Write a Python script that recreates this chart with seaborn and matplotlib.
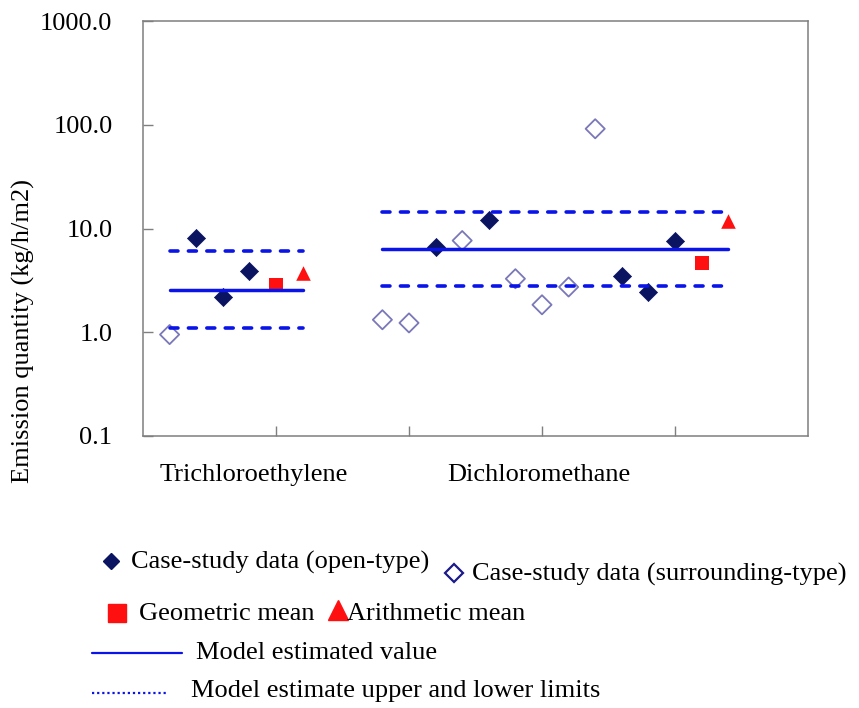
import numpy as np
import pandas as pd
import matplotlib
matplotlib.use("Agg")
import matplotlib.pyplot as plt
from matplotlib.lines import Line2D
import seaborn as sns

# ---- data -------------------------------------------------------------
# x is the sample slot along the horizontal axis (5 slots per axis unit)
tce_open_slot = [2, 3, 4]
tce_open_val = [8.1, 2.2, 3.9]
tce_surr_slot = [1]
tce_surr_val = [0.95]
tce_geo_slot, tce_geo_val = 5, 2.87
tce_arith_slot, tce_arith_val = 6, 3.75
tce_model, tce_upper, tce_lower = 2.55, 6.1, 1.10
tce_span = (1, 6)

dcm_open_slot = [11, 13, 18, 19, 20]
dcm_open_val = [6.7, 12.1, 3.45, 2.44, 7.55]
dcm_surr_slot = [9, 10, 12, 14, 15, 16, 17]
dcm_surr_val = [1.32, 1.23, 7.65, 3.28, 1.84, 2.73, 91.5]
dcm_geo_slot, dcm_geo_val = 21, 4.6
dcm_arith_slot, dcm_arith_val = 22, 11.8
dcm_model, dcm_upper, dcm_lower = 6.3, 14.5, 2.79
dcm_span = (9, 22)

categories = ["Trichloroethylene", "Dichloromethane"]
category_pos = [0.83, 2.98]
y_ticks = [0.1, 1, 10, 100, 1000]
y_label = "Emission quantity (kg/h/m2)"

legend_labels = [
    "Case-study data (open-type)",
    "Case-study data (surrounding-type)",
    "Geometric mean",
    "Arithmetic mean",
    "Model estimated value",
    "Model estimate upper and lower limits",
]

SLOT = 0.2
FS = 19

# ---- style ------------------------------------------------------------
sns.set_theme(style="white")
plt.rcParams["font.family"] = ["Liberation Serif", "DejaVu Serif"]
plt.rcParams["font.size"] = FS
plt.rcParams["text.color"] = "black"
plt.rcParams["axes.labelcolor"] = "black"

NAVY = "#0b1460"
OPEN_EDGE = "#7a78b8"
RED = "#ff1010"
BLUE = "#0a14e8"
GRAY = "#7f7f7f"

fig = plt.figure(figsize=(8.59, 7.08), dpi=100)
ax = fig.add_axes([143 / 859, 1 - 436 / 708, 665 / 859, 415 / 708])

def slots(s):
    return np.asarray(s, dtype=float) * SLOT

open_df = pd.DataFrame({"x": np.r_[slots(tce_open_slot), slots(dcm_open_slot)],
                        "y": tce_open_val + dcm_open_val})
surr_df = pd.DataFrame({"x": np.r_[slots(tce_surr_slot), slots(dcm_surr_slot)],
                        "y": tce_surr_val + dcm_surr_val})
geo_df = pd.DataFrame({"x": slots([tce_geo_slot, dcm_geo_slot]),
                       "y": [tce_geo_val, dcm_geo_val]})
arith_df = pd.DataFrame({"x": slots([tce_arith_slot, dcm_arith_slot]),
                         "y": [tce_arith_val, dcm_arith_val]})

sns.scatterplot(data=open_df, x="x", y="y", marker="D", s=85, color=NAVY,
                edgecolor=NAVY, linewidth=0.5, ax=ax, zorder=3)
sns.scatterplot(data=surr_df, x="x", y="y", marker="D", s=95, facecolor="none",
                edgecolor=OPEN_EDGE, linewidth=1.3, ax=ax, zorder=3)
sns.scatterplot(data=geo_df, x="x", y="y", marker="s", s=100, color=RED,
                edgecolor=RED, linewidth=0, ax=ax, zorder=3)
sns.scatterplot(data=arith_df, x="x", y="y", marker="^", s=110, color=RED,
                edgecolor=RED, linewidth=0, ax=ax, zorder=3)

# model value and limits, one segment per substance
for span, mid, up, lo in [(tce_span, tce_model, tce_upper, tce_lower),
                          (dcm_span, dcm_model, dcm_upper, dcm_lower)]:
    xs = slots(span)
    sns.lineplot(x=xs, y=[mid, mid], color=BLUE, lw=2.5, ax=ax, zorder=4,
                 solid_capstyle="round")
    for v in (up, lo):
        sns.lineplot(x=xs, y=[v, v], color=BLUE, lw=2.6, ax=ax, zorder=4,
                     dashes=(2.2, 2.9), dash_capstyle="round")

ax.set_yscale("log")
ax.set_ylim(0.1, 1000)
ax.set_xlim(0, 5)
ax.set_yticks(y_ticks)
ax.set_yticklabels([f"{v:.1f}" for v in y_ticks])
ax.yaxis.set_minor_locator(matplotlib.ticker.NullLocator())
ax.set_xticks([1, 2, 3, 4])
ax.set_xticklabels([])
ax.tick_params(axis="both", direction="in", length=7, width=1, color=GRAY,
               left=True, bottom=True)
ax.tick_params(axis="y", pad=22, labelsize=FS, labelcolor="black")
ax.set_xlabel("")
ax.set_ylabel("")
for sp in ax.spines.values():
    sp.set_visible(True)
    sp.set_color(GRAY)
    sp.set_linewidth(1.1)

for name, pos in zip(categories, category_pos):
    ax.text(pos, -0.095, name, transform=ax.get_xaxis_transform(),
            ha="center", va="center", fontsize=FS, color="black")

fig.text(23 / 859, 1 - 331 / 708, y_label, rotation=90, ha="center",
         va="center", fontsize=FS, color="black")

# ---- legend (overlay in pixel units) ----------------------------------
lax = fig.add_axes([0, 0, 1, 1], zorder=5)
lax.set_xlim(0, 859)
lax.set_ylim(708, 0)
lax.axis("off")
lax.patch.set_alpha(0)

lax.add_line(Line2D([111], [561], marker="D", ms=8.5, color=NAVY, mfc=NAVY, mec=NAVY, ls="none"))
lax.text(131, 562, legend_labels[0], ha="left", va="center", fontsize=FS)
lax.add_line(Line2D([454], [573], marker="D", ms=9, mfc="none", mec="#1a1a8a", mew=1.6, ls="none"))
lax.text(472, 574, legend_labels[1], ha="left", va="center", fontsize=FS)

lax.add_line(Line2D([117], [613], marker="s", ms=13, color=RED, mfc=RED, mec=RED, ls="none"))
lax.text(139, 614, legend_labels[2], ha="left", va="center", fontsize=FS)
lax.add_line(Line2D([338], [610], marker="^", ms=15, color=RED, mfc=RED, mec=RED, ls="none"))
lax.text(347, 614, legend_labels[3], ha="left", va="center", fontsize=FS)

lax.add_line(Line2D([92, 182], [653, 653], color=BLUE, lw=1.6))
lax.text(196, 653, legend_labels[4], ha="left", va="center", fontsize=FS)
lax.add_line(Line2D([92, 166], [693, 693], color=BLUE, lw=1.6, ls=(0, (1, 1.3))))
lax.text(191, 691, legend_labels[5], ha="left", va="center", fontsize=FS)

fig.savefig("out.png", dpi=100)
